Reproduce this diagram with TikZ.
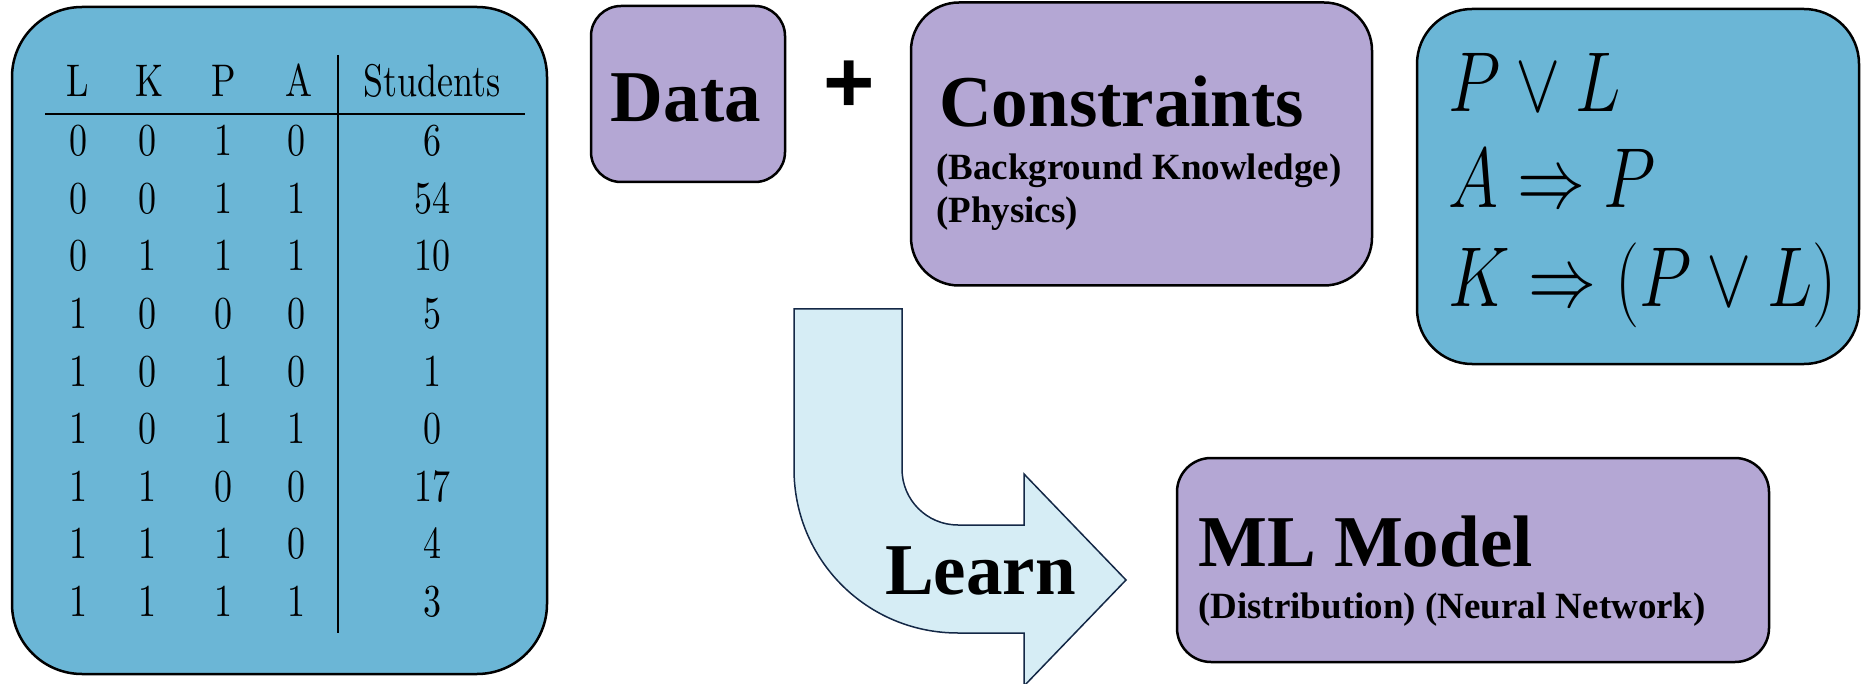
\RequirePackage{fix-cm}
\documentclass[tikz,border=0pt]{standalone}
\usepackage{fontspec}
\usepackage{graphicx}
\newfontfamily\tnr{Liberation Serif}
\newfontfamily\arialf{Liberation Sans}
\newfontfamily\lmten{lmroman10-regular}[Extension=.otf]
\newcommand\vstr[2][1.27]{\scalebox{1}[#1]{#2}}
\definecolor{boxblue}{RGB}{107,182,214}
\definecolor{boxpurple}{RGB}{180,167,212}
\definecolor{arrowfill}{RGB}{214,237,245}
\definecolor{arrowline}{RGB}{20,40,70}
\tikzset{
  bluebox/.style={draw=black, line width=2.5pt, fill=boxblue, inner sep=0pt},
  purplebox/.style={draw=black, line width=2.5pt, fill=boxpurple, inner sep=0pt},
  bigtext/.style={font=\tnr\bfseries\fontsize{73}{80}\selectfont, anchor=base west, inner sep=0pt},
  smalltext/.style={font=\tnr\bfseries\fontsize{37}{42}\selectfont, anchor=base west, inner sep=0pt},
  cell/.style={font=\lmten\fontsize{36}{40}\selectfont, anchor=base, inner sep=0pt},
  formula/.style={font=\fontsize{68}{76}\selectfont, anchor=base west, inner sep=0pt},
  rule/.style={line width=2pt},
  bigarrow/.style={draw=arrowline, line width=1.5pt, fill=arrowfill, line join=miter},
}
\begin{document}
\begin{tikzpicture}[x=1pt,y=-1pt]
\useasboundingbox (0,0) rectangle (1862,684);
% table box
\node[bluebox, rounded corners=70pt, minimum width=535pt, minimum height=667pt] (tbl) at (279.5,340.5) {};
\foreach \nm/\xx in {L/78, K/150, P/224, A/299}
  \node[cell] (h\nm) at (\xx,97) {\vstr{\nm}};
\node[cell] (hS) at (432,97) {\vstr{Students}};
\draw[rule] (45,114) -- (525,114);
\draw[rule] (338,55) -- (338,633);
\foreach \va/\vb/\vc/\vd/\vs [count=\i] in {0/0/1/0/6, 0/0/1/1/54, 0/1/1/1/10, 1/0/0/0/5, 1/0/1/0/1, 1/0/1/1/0, 1/1/0/0/17, 1/1/1/0/4, 1/1/1/1/3}{
  \pgfmathsetmacro\yy{156+57.5*(\i-1)}
  \node[cell] (r\i a) at (78,\yy) {\vstr{\va}};
  \node[cell] (r\i b) at (147,\yy) {\vstr{\vb}};
  \node[cell] (r\i c) at (223,\yy) {\vstr{\vc}};
  \node[cell] (r\i d) at (296,\yy) {\vstr{\vd}};
  \node[cell] (r\i s) at (432,\yy) {\vstr{\vs}};
}
% data box
\node[purplebox, rounded corners=30pt, minimum width=194pt, minimum height=176pt] (data) at (688,94) {};
\node[bigtext, anchor=base] (datatext) at (686,122) {Data};
% plus
\node[font=\arialf\bfseries\fontsize{88}{88}\selectfont, inner sep=0pt] (plus) at (849,87) {+};
% constraints box
\node[purplebox, rounded corners=48pt, minimum width=461pt, minimum height=283pt] (cons) at (1141.5,144) {};
\node[bigtext] (constext) at (939,127) {Constraints};
\node[smalltext] (bg) at (936,180) {(Background Knowledge)};
\node[smalltext] (phys) at (936,223) {(Physics)};
% formula box
\node[bluebox, rounded corners=55pt, minimum width=442pt, minimum height=355pt] (form) at (1638,186.5) {};
\node[formula] (f1) at (1448,112) {\vstr[1.25]{$P\vee L$}};
\node[formula] (f2) at (1448,208) {\vstr[1.25]{$A\Rightarrow P$}};
\node[formula] (f3) at (1448,307) {\vstr[1.25]{$K\Rightarrow(P\vee L)$}};
% learn arrow
\path[bigarrow] (794,309) -- (794,469) .. controls (794,560) and (867,633) .. (958,633)
  -- (1024,633) -- (1024,686) -- (1126,580) -- (1024,474) -- (1024,525) -- (958,525)
  .. controls (927,525) and (902,500) .. (902,469) -- (902,309) -- cycle;
\node[bigtext] (learn) at (885,594) {Learn};
% ML model box
\node[purplebox, rounded corners=34pt, minimum width=592pt, minimum height=204pt] (ml) at (1473,560) {};
\node[bigtext] (mltitle) at (1198,566) {ML Model};
\node[smalltext] (mlsub) at (1198,618) {(Distribution) (Neural Network)};
\end{tikzpicture}
\end{document}
